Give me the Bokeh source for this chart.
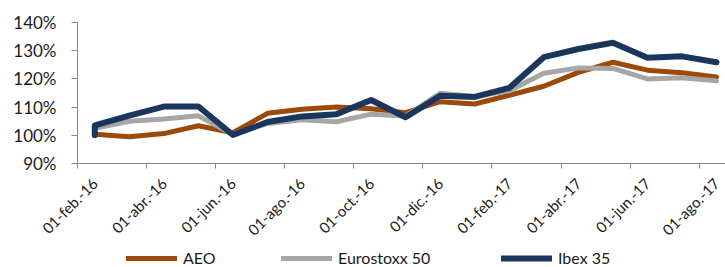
import math
from bokeh.plotting import figure
from bokeh.layouts import column
from bokeh.models import (Range1d, FixedTicker, LinearAxis, Legend, LegendItem)
from bokeh.embed import file_html
from bokeh.resources import INLINE

# ---- data ----
months = ["feb-16", "mar-16", "abr-16", "may-16", "jun-16", "jul-16", "ago-16",
          "sep-16", "oct-16", "nov-16", "dic-16", "ene-17", "feb-17", "mar-17",
          "abr-17", "may-17", "jun-17", "jul-17", "ago-17"]
tick_labels = ["01-feb.-16", "01-abr.-16", "01-jun.-16", "01-ago.-16", "01-oct.-16",
               "01-dic.-16", "01-feb.-17", "01-abr.-17", "01-jun.-17", "01-ago.-17"]
y_ticks = [90, 100, 110, 120, 130, 140]
y_labels = ["90%", "100%", "110%", "120%", "130%", "140%"]
series_names = ["AEO", "Eurostoxx 50", "Ibex 35"]

aeo = [100.4, 99.5, 100.6, 103.4, 100.9, 107.8, 109.2, 110.0, 109.4, 108.0,
       111.9, 111.1, 114.2, 117.4, 122.3, 125.9, 123.1, 122.2, 120.7]
# first value of February 2016 (base 100) then monthly values
euro_start = 100.0
eurostoxx = [102.5, 105.0, 105.8, 106.9, 100.3, 104.2, 105.5, 104.8, 107.5, 106.8,
             114.9, 113.8, 115.8, 122.0, 123.9, 123.7, 120.0, 120.4, 119.3]
ibex_start = 100.0
ibex = [103.5, 107.0, 110.2, 110.2, 100.1, 104.7, 106.7, 107.5, 112.5, 106.4,
        114.0, 113.6, 116.8, 127.7, 130.6, 132.8, 127.5, 128.0, 125.9]

idx = list(range(len(months)))

C_AEO = "#9C4A0C"
C_EU = "#A6A6A6"
C_IB = "#1B365D"
AXIS = "#868686"
TXT = "#1a1a1a"

p = figure(width=725, height=247, output_backend="svg", toolbar_location=None,
           x_range=Range1d(-0.5, 18.26), y_range=Range1d(90, 140),
           min_border_left=77, min_border_right=0, min_border_top=22, min_border_bottom=73)
p.outline_line_color = None
p.xgrid.visible = False
p.ygrid.visible = False
p.background_fill_color = "white"
p.border_fill_color = "white"

# y axis
ya = p.yaxis[0]
ya.ticker = FixedTicker(ticks=y_ticks)
ya.major_label_overrides = {t: l for t, l in zip(y_ticks, y_labels)}
ya.axis_line_color = AXIS
ya.major_tick_line_color = AXIS
ya.major_tick_out = 6
ya.major_tick_in = 0
ya.minor_tick_line_color = None
ya.major_label_standoff = 15
ya.major_label_text_font = "Lato"
ya.major_label_text_font_size = "17px"
ya.major_label_text_color = TXT

# x axis: tick marks between categories (every 2 months)
xa = p.xaxis[0]
xa.ticker = FixedTicker(ticks=[i - 0.5 for i in idx[::2]])
xa.axis_line_color = AXIS
xa.major_tick_line_color = AXIS
xa.major_tick_out = 5
xa.major_tick_in = 0
xa.minor_tick_line_color = None
xa.major_label_text_font_size = "1px"
xa.major_label_text_alpha = 0
xa.major_label_standoff = 0

# x axis labels
xl = LinearAxis(ticker=FixedTicker(ticks=idx[::2]),
                major_label_overrides={i: l for i, l in zip(idx[::2], tick_labels)})
xl.axis_line_color = None
xl.major_tick_line_color = None
xl.minor_tick_line_color = None
xl.major_tick_out = 0
xl.major_tick_in = 0
xl.major_label_orientation = math.pi / 4
xl.major_label_standoff = 12
xl.major_label_text_font = "Lato"
xl.major_label_text_font_size = "15px"
xl.major_label_text_color = TXT
p.add_layout(xl, "below")

styles = [(C_AEO, 5), (C_EU, 5), (C_IB, 6)]

r_aeo = p.line(idx, aeo, line_color=C_AEO, line_width=5,
               line_join="round", line_cap="round")
r_eu = p.line([idx[0]] + idx, [euro_start] + eurostoxx, line_color=C_EU, line_width=5,
              line_join="round", line_cap="round")
r_ib = p.line([idx[0]] + idx, [ibex_start] + ibex, line_color=C_IB, line_width=6,
              line_join="round", line_cap="round")

# legend strip below the chart (frame aligned with the chart frame)
lf = figure(width=725, height=20, output_backend="svg", toolbar_location=None,
            x_range=Range1d(0, 1), y_range=Range1d(0, 1),
            x_axis_type=None, y_axis_type=None,
            min_border_left=77, min_border_right=0, min_border_top=0, min_border_bottom=0)
lf.outline_line_color = None
lf.xgrid.visible = False
lf.ygrid.visible = False
lf.background_fill_color = "white"
lf.border_fill_color = "white"

for name, (col, lw), xloc in zip(series_names, styles, [49, 204, 424]):
    # legend-only renderer, kept outside the visible range
    dummy = lf.line([5, 6], [5, 5], line_color=col, line_width=lw, line_cap="round")
    lg = Legend(items=[LegendItem(label=name, renderers=[dummy])], location=(xloc, 0),
                orientation="horizontal", glyph_width=51, glyph_height=18,
                label_height=18, label_standoff=6, padding=0, margin=0, spacing=0,
                border_line_color=None, background_fill_alpha=0,
                label_text_font="Lato", label_text_font_size="16px",
                label_text_color=TXT)
    lf.add_layout(lg, "center")

layout = column(p, lf, spacing=0)
open("out.html", "w").write(file_html(layout, INLINE))
